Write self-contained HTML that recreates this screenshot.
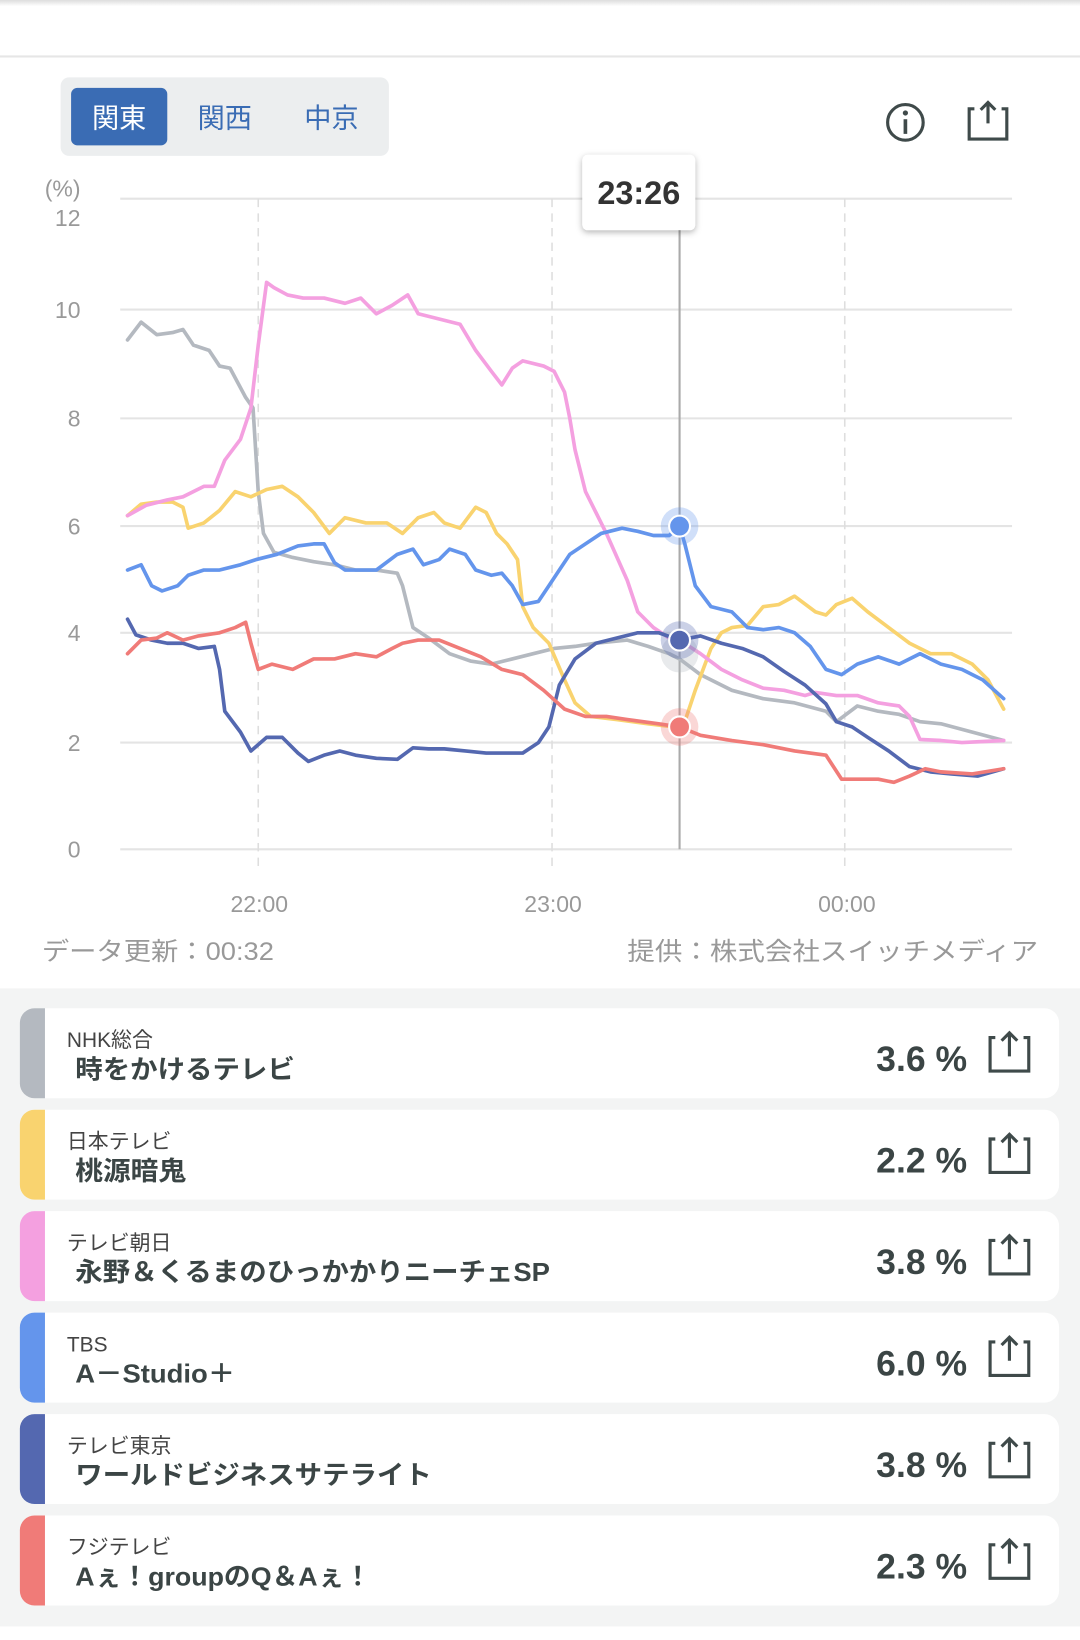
<!DOCTYPE html>
<html><head><meta charset="utf-8"><style>
html,body{margin:0;padding:0;width:1080px;height:1640px;overflow:hidden;background:#fff}
svg{display:block}
text{font-family:"Liberation Sans","Noto Sans CJK JP",sans-serif}
</style></head><body>
<svg width="1080" height="1640" viewBox="0 0 1033 1568" preserveAspectRatio="none">
<defs>
<linearGradient id="tg" x1="0" y1="0" x2="0" y2="1"><stop offset="0" stop-color="#ddd"/><stop offset="1" stop-color="#fff"/></linearGradient>
<filter id="sh" x="-20%" y="-20%" width="140%" height="150%"><feDropShadow dx="0" dy="2" stdDeviation="3" flood-opacity="0.3"/></filter>
</defs>
<rect width="1033" height="1568" fill="#fff"/>
<rect width="1033" height="6" fill="url(#tg)"/>
<line x1="0" y1="54" x2="1033" y2="54" stroke="#e6e6e6" stroke-width="2"/>
<rect x="58" y="74" width="314" height="75" rx="8" fill="#eceeef"/>
<rect x="68" y="84" width="92" height="55" rx="6" fill="#3a6cb4"/>
<text x="114" y="122" font-size="26" fill="#fff" text-anchor="middle">関東</text>
<text x="215" y="122" font-size="26" fill="#3a6cb4" text-anchor="middle">関西</text>
<text x="317" y="122" font-size="26" fill="#3a6cb4" text-anchor="middle">中京</text>
<circle cx="866" cy="117" r="17" fill="none" stroke="#3f4a4a" stroke-width="3"/>
<circle cx="866" cy="108" r="2.5" fill="#3f4a4a"/>
<line x1="866" y1="114" x2="866" y2="128" stroke="#3f4a4a" stroke-width="3.5"/>
<path d="M932 104 h-5 v29 h36 v-29 h-5" fill="none" stroke="#3f4a4a" stroke-width="3"/>
<path d="M945 118 v-20 M938 105 l7 -7 l7 7" fill="none" stroke="#3f4a4a" stroke-width="3"/>
<g stroke="#e4e4e4" stroke-width="2">
<line x1="115" y1="190" x2="968" y2="190"/><line x1="115" y1="296" x2="968" y2="296"/>
<line x1="115" y1="400" x2="968" y2="400"/><line x1="115" y1="503" x2="968" y2="503"/>
<line x1="115" y1="605" x2="968" y2="605"/><line x1="115" y1="710" x2="968" y2="710"/>
<line x1="115" y1="812" x2="968" y2="812"/>
</g>
<g stroke="#dedede" stroke-width="1.5" stroke-dasharray="8,6">
<line x1="247" y1="190" x2="247" y2="830"/><line x1="528" y1="190" x2="528" y2="830"/><line x1="808" y1="190" x2="808" y2="830"/>
</g>
<g font-size="22" fill="#999" text-anchor="end">
<text x="77" y="188">(%)</text>
<text x="77" y="216">12</text><text x="77" y="304">10</text><text x="77" y="408">8</text>
<text x="77" y="511">6</text><text x="77" y="613">4</text><text x="77" y="718">2</text><text x="77" y="820">0</text>
</g>
<g font-size="22" fill="#999" text-anchor="middle">
<text x="248" y="872">22:00</text><text x="529" y="872">23:00</text><text x="810" y="872">00:00</text>
</g>
<line x1="650" y1="215" x2="650" y2="812" stroke="#aaa" stroke-width="2"/>
<g fill="none" stroke-width="3.5" stroke-linejoin="round" stroke-linecap="round">
<polyline stroke="#b4b9c0" points="122,325 135,308 150,320 165,318 175,315 185,330 200,335 210,350 220,352 235,380 242,390 247,470 252,510 262,528 280,533 300,537 320,540 340,545 360,545 380,548 385,560 395,600 410,610 430,625 450,632 470,635 490,630 510,625 530,620 550,618 570,615 600,612 620,618 640,625 650,630 670,645 700,660 730,668 760,672 790,680 800,690 820,675 840,680 860,683 880,690 900,692 930,700 960,708"/>
<polyline stroke="#f9d36f" points="122,493 135,482 150,480 165,480 175,485 180,505 195,500 210,488 225,470 240,475 255,468 270,465 285,475 300,490 315,510 330,495 350,500 370,500 385,510 400,495 415,490 425,500 440,505 455,485 465,490 475,510 485,520 495,535 500,580 510,600 525,615 540,650 550,672 565,685 590,688 620,692 645,695 655,690 665,660 680,620 690,605 700,600 715,598 730,580 745,578 760,570 780,585 790,588 800,578 815,572 830,585 850,600 870,615 890,625 910,625 930,635 945,650 960,678"/>
<polyline stroke="#f4a0e0" points="122,493 140,483 160,478 175,475 195,465 205,465 215,440 230,420 240,390 247,330 255,270 262,275 275,282 290,285 310,285 330,290 345,285 360,300 375,292 390,282 400,300 420,305 440,310 455,335 470,355 480,368 490,352 500,345 520,350 530,355 540,375 545,400 550,430 560,470 570,490 580,510 600,555 610,585 625,600 640,610 650,612 670,625 690,640 710,650 730,658 750,660 770,665 780,662 800,665 820,665 840,672 860,675 870,685 880,707 900,708 920,710 960,708"/>
<polyline stroke="#6495ec" points="122,545 135,540 145,560 155,565 170,560 180,550 195,545 210,545 230,540 245,535 265,530 285,522 300,520 310,520 320,538 330,545 360,545 380,530 395,525 405,540 420,535 430,525 445,530 455,545 470,550 480,548 490,560 500,578 515,575 525,560 535,545 545,530 560,520 575,510 595,505 610,508 625,512 640,512 650,503 655,520 665,560 680,580 700,585 715,600 730,602 745,600 760,605 775,618 790,640 805,645 820,635 840,628 860,635 880,625 900,635 920,640 940,650 960,668"/>
<polyline stroke="#5468b0" points="122,592 130,607 145,612 160,615 175,615 190,620 205,618 210,640 215,680 230,700 240,718 255,705 270,705 285,720 295,728 310,722 325,718 340,722 360,725 380,726 395,715 410,716 425,716 445,718 465,720 485,720 500,720 515,710 525,695 535,655 550,630 570,615 590,610 610,605 630,605 650,612 670,608 690,615 710,620 730,628 750,642 770,655 790,673 800,690 815,695 830,705 850,718 870,733 890,738 910,740 935,742 960,735"/>
<polyline stroke="#f07b78" points="122,625 135,612 150,610 160,605 175,612 190,608 210,605 225,600 235,595 240,615 247,640 260,635 280,640 300,630 320,630 340,625 360,628 375,620 385,615 400,612 420,612 440,620 460,628 480,640 500,645 520,660 540,678 560,685 580,685 600,688 630,692 650,695 670,703 700,708 730,712 760,718 790,722 805,745 820,745 840,745 855,748 870,742 885,735 900,738 930,740 960,735"/>
</g>
<circle cx="650" cy="503" r="18" fill="#6495ec" opacity="0.3"/><circle cx="650" cy="503" r="10" fill="#6495ec" stroke="#fff" stroke-width="2"/>
<circle cx="650" cy="625" r="18" fill="#b4b9c0" opacity="0.3"/>
<circle cx="650" cy="612" r="18" fill="#5468b0" opacity="0.3"/><circle cx="650" cy="612" r="10" fill="#5468b0" stroke="#fff" stroke-width="2"/>
<circle cx="650" cy="695" r="18" fill="#f07b78" opacity="0.3"/><circle cx="650" cy="695" r="10" fill="#f07b78" stroke="#fff" stroke-width="2"/>
<rect x="557" y="148" width="108" height="72" rx="5" fill="#fff" filter="url(#sh)"/>
<text x="611" y="195" font-size="31" font-weight="bold" fill="#333" text-anchor="middle">23:26</text>
<text x="40" y="918" font-size="24" fill="#999" textLength="222" lengthAdjust="spacingAndGlyphs">データ更新：00:32</text>
<text x="600" y="918" font-size="24" fill="#999" textLength="393" lengthAdjust="spacingAndGlyphs">提供：株式会社スイッチメディア</text>
<rect x="0" y="945" width="1033" height="610" fill="#f3f4f4"/>
<g transform="translate(0,964)">
<rect x="19" y="0" width="994" height="86" rx="14" fill="#fff"/><path d="M43 0 h-10 a14 14 0 0 0 -14 14 v58 a14 14 0 0 0 14 14 h10z" fill="#b4b9c0"/>
<text x="64" y="37" font-size="20" fill="#444">NHK総合</text><text x="72" y="67" font-size="25" font-weight="bold" fill="#3b4545" textLength="210" lengthAdjust="spacingAndGlyphs">時をかけるテレビ</text>
<text x="925" y="60" font-size="34" font-weight="bold" fill="#3b4545" text-anchor="end">3.6 %</text>
<path d="M952 28 h-5 v32 h37 v-32 h-5 M965.5 46 v-22 M958 31 l7.5 -7.5 l7.5 7.5" fill="none" stroke="#3f4a4a" stroke-width="3"/></g>
<g transform="translate(0,1061)">
<rect x="19" y="0" width="994" height="86" rx="14" fill="#fff"/><path d="M43 0 h-10 a14 14 0 0 0 -14 14 v58 a14 14 0 0 0 14 14 h10z" fill="#f9d36f"/>
<text x="64" y="37" font-size="20" fill="#444">日本テレビ</text><text x="72" y="67" font-size="25" font-weight="bold" fill="#3b4545" textLength="106" lengthAdjust="spacingAndGlyphs">桃源暗鬼</text>
<text x="925" y="60" font-size="34" font-weight="bold" fill="#3b4545" text-anchor="end">2.2 %</text>
<path d="M952 28 h-5 v32 h37 v-32 h-5 M965.5 46 v-22 M958 31 l7.5 -7.5 l7.5 7.5" fill="none" stroke="#3f4a4a" stroke-width="3"/></g>
<g transform="translate(0,1158)">
<rect x="19" y="0" width="994" height="86" rx="14" fill="#fff"/><path d="M43 0 h-10 a14 14 0 0 0 -14 14 v58 a14 14 0 0 0 14 14 h10z" fill="#f4a0e0"/>
<text x="64" y="37" font-size="20" fill="#444">テレビ朝日</text><text x="72" y="67" font-size="25" font-weight="bold" fill="#3b4545" textLength="454" lengthAdjust="spacingAndGlyphs">永野＆くるまのひっかかりニーチェSP</text>
<text x="925" y="60" font-size="34" font-weight="bold" fill="#3b4545" text-anchor="end">3.8 %</text>
<path d="M952 28 h-5 v32 h37 v-32 h-5 M965.5 46 v-22 M958 31 l7.5 -7.5 l7.5 7.5" fill="none" stroke="#3f4a4a" stroke-width="3"/></g>
<g transform="translate(0,1255)">
<rect x="19" y="0" width="994" height="86" rx="14" fill="#fff"/><path d="M43 0 h-10 a14 14 0 0 0 -14 14 v58 a14 14 0 0 0 14 14 h10z" fill="#6495ec"/>
<text x="64" y="37" font-size="20" fill="#444">TBS</text><text x="72" y="67" font-size="25" font-weight="bold" fill="#3b4545" textLength="153" lengthAdjust="spacingAndGlyphs">A－Studio＋</text>
<text x="925" y="60" font-size="34" font-weight="bold" fill="#3b4545" text-anchor="end">6.0 %</text>
<path d="M952 28 h-5 v32 h37 v-32 h-5 M965.5 46 v-22 M958 31 l7.5 -7.5 l7.5 7.5" fill="none" stroke="#3f4a4a" stroke-width="3"/></g>
<g transform="translate(0,1352)">
<rect x="19" y="0" width="994" height="86" rx="14" fill="#fff"/><path d="M43 0 h-10 a14 14 0 0 0 -14 14 v58 a14 14 0 0 0 14 14 h10z" fill="#5468b0"/>
<text x="64" y="37" font-size="20" fill="#444">テレビ東京</text><text x="72" y="67" font-size="25" font-weight="bold" fill="#3b4545" textLength="341" lengthAdjust="spacingAndGlyphs">ワールドビジネスサテライト</text>
<text x="925" y="60" font-size="34" font-weight="bold" fill="#3b4545" text-anchor="end">3.8 %</text>
<path d="M952 28 h-5 v32 h37 v-32 h-5 M965.5 46 v-22 M958 31 l7.5 -7.5 l7.5 7.5" fill="none" stroke="#3f4a4a" stroke-width="3"/></g>
<g transform="translate(0,1449)">
<rect x="19" y="0" width="994" height="86" rx="14" fill="#fff"/><path d="M43 0 h-10 a14 14 0 0 0 -14 14 v58 a14 14 0 0 0 14 14 h10z" fill="#f07b78"/>
<text x="64" y="37" font-size="20" fill="#444">フジテレビ</text><text x="72" y="67" font-size="25" font-weight="bold" fill="#3b4545" textLength="283" lengthAdjust="spacingAndGlyphs">Aぇ！groupのQ＆Aぇ！</text>
<text x="925" y="60" font-size="34" font-weight="bold" fill="#3b4545" text-anchor="end">2.3 %</text>
<path d="M952 28 h-5 v32 h37 v-32 h-5 M965.5 46 v-22 M958 31 l7.5 -7.5 l7.5 7.5" fill="none" stroke="#3f4a4a" stroke-width="3"/></g>
</svg>
</body></html>
